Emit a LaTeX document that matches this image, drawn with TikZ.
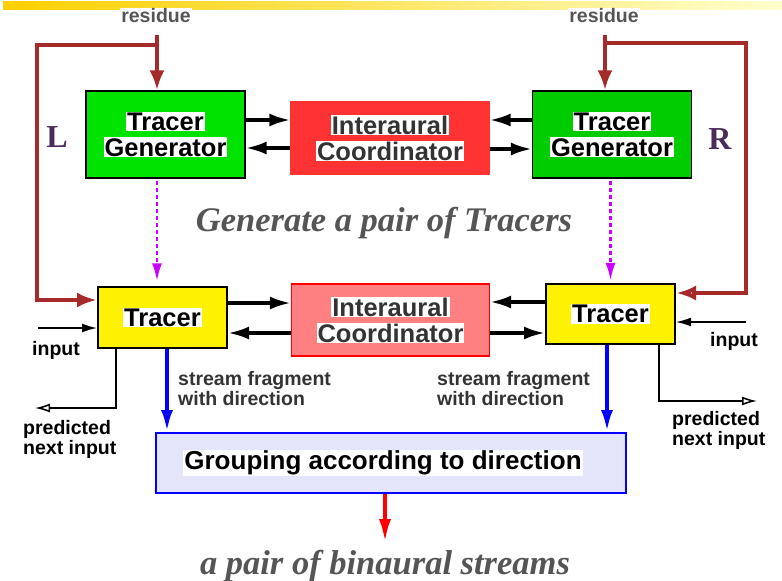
\documentclass[tikz,border=0pt]{standalone}
\usepackage{fontspec}
\setmainfont{Liberation Serif}
\setsansfont{Liberation Sans}
\usetikzlibrary{arrows.meta, positioning, calc}

\definecolor{brn}{RGB}{165,42,42}
\definecolor{grnA}{RGB}{0,226,0}
\definecolor{grnB}{RGB}{0,204,0}
\definecolor{redA}{RGB}{255,51,51}
\definecolor{redB}{RGB}{255,128,128}
\definecolor{lav}{RGB}{228,228,250}
\definecolor{vio}{RGB}{204,0,255}
\definecolor{txtgray}{RGB}{85,85,85}
\definecolor{dkgray}{RGB}{51,51,51}
\definecolor{plum}{RGB}{75,45,90}
\definecolor{barL}{RGB}{255,208,0}
\definecolor{barM}{RGB}{255,238,150}
\definecolor{barR}{RGB}{255,255,205}

\setlength{\fboxsep}{1pt}
\newcommand{\wb}[1]{\colorbox{white}{#1}}

\tikzstyle{blk}=[draw, inner sep=0pt, align=center,
    font=\sffamily\bfseries\fontsize{25.5}{26}\selectfont]
\tikzstyle{gen}=[blk, line width=1.2pt, minimum width=159pt, minimum height=87pt]
\tikzstyle{iac}=[blk, line width=1.2pt, text=dkgray,
    minimum width=198pt, minimum height=72pt]
\tikzstyle{trc}=[blk, fill=yellow, line width=2pt,
    minimum width=129pt, minimum height=60.5pt]
\tikzstyle{grpbox}=[blk, fill=lav, draw=blue, line width=2pt,
    minimum width=470pt, minimum height=60pt]
\tikzstyle{small}=[inner sep=0pt, align=left,
    font=\sffamily\bfseries\fontsize{19.5}{20}\selectfont]
\tikzstyle{ital}=[inner sep=0pt, text=txtgray,
    font=\rmfamily\bfseries\itshape\fontsize{34.5}{36}\selectfont]
\tikzstyle{lr}=[inner sep=0pt, text=plum,
    font=\rmfamily\bfseries\fontsize{32}{32}\selectfont]
\tikzstyle{link}=[line width=3.5pt, -{Latex[length=21pt,width=13pt]}]
\tikzstyle{res}=[brn, line width=4pt, -{Latex[length=20pt,width=15pt]}]
\tikzstyle{dots}=[vio, line width=2.5pt, dash pattern=on 4pt off 3pt,
    -{Latex[length=18pt,width=10pt]}]
\tikzstyle{strm}=[blue, line width=4pt, -{Latex[length=22pt,width=12pt]}]
\tikzstyle{outp}=[red, line width=4pt, -{Latex[length=24pt,width=12pt]}]
\tikzstyle{thinin}=[line width=1.5pt, -{Latex[length=15pt,width=9pt]}]
\tikzstyle{pred}=[line width=1.5pt, -{Latex[open,length=15pt,width=9pt]}]

\begin{document}
\begin{tikzpicture}[x=1pt,y=-1pt]
    \useasboundingbox (0,0) rectangle (782,581);
    \shade[left color=barL, middle color=barM, right color=barR]
        (3,1) rectangle (782,9);

    \node (genL) [gen, fill=grnA] at (165.5,134.5) {\wb{Tracer}\\\wb{Generator}};
    \path (genL)+(224.5,3.5) node (iacT) [iac, fill=redA, draw=redA]
        {\wb{Interaural}\\\wb{Coordinator}};
    \path (genL)+(446.5,0) node (genR) [gen, fill=grnB] {\wb{Tracer}\\\wb{Generator}};
    \node (trL) [trc] at (162.5,317.5) {\wb{Tracer}};
    \path (trL)+(228,2.5) node (iacB) [iac, fill=redB, draw=red]
        {\wb{Interaural}\\\wb{Coordinator}};
    \path (trL)+(448,-3.5) node (trR) [trc] {\wb{Tracer}};
    \node (grp) [grpbox] at (391,463)
        {\wb{\fontsize{26}{26}\selectfont Grouping according to direction}\hspace*{16pt}};

    \node (resL) [small, text=txtgray, fill=white, inner sep=1pt] at (156,16) {residue};
    \node (resR) [small, text=txtgray, fill=white, inner sep=1pt] at (604,16) {residue};
    \node (lblL) [lr] at (57,137) {L};
    \node (lblR) [lr] at (720,139) {R};
    \node (genTxt) [ital, anchor=base] at (384,231) {Generate a pair of Tracers};
    \node (inLt) [small] at (56,350) {input};
    \node (inRt) [small] at (734,341) {input};
    \node (prL) [small, anchor=west] at (23,439.5) {predicted\\next input};
    \node (prR) [small, anchor=west] at (672,430.5) {predicted\\next input};
    \node (sfL) [small, text=dkgray, anchor=west] at (178,389) {stream fragment\\with direction};
    \node (sfR) [small, text=dkgray, anchor=west] at (437,389) {stream fragment\\with direction};
    \node (pairTxt) [ital, anchor=base] at (385,574) {a pair of binaural streams};

    \coordinate (tL) at (157,35);
    \coordinate (jL) at (157,45);
    \coordinate (cL) at (37,45);
    \coordinate (tR) at (605,35);
    \coordinate (jR) at (605,43);
    \coordinate (cR) at (746,43);
    \coordinate (inL) at (38,328);
    \coordinate (inR) at (746,322);
    \coordinate (pdL) at (35,408);
    \coordinate (pdR) at (757,401);
    \coordinate (bot) at (385,543);

    \draw[res] (tL) -- (tL |- genL.north);
    \draw[res] (tR) -- (tR |- genR.north);
    \draw[res] (jL) -- (cL) |- (trL.west |- 0,300);
    \draw[res, -{Latex[open,length=20pt,width=15pt]}] (jR) -- (cR) |- (trR.east |- 0,293);

    \draw[link] (genL.east |- 0,120) -- (iacT.west |- 0,120);
    \draw[link] (iacT.west |- 0,148) -- (genL.east |- 0,148);
    \draw[link] (genR.west |- 0,120) -- (iacT.east |- 0,120);
    \draw[link] (iacT.east |- 0,149) -- (genR.west |- 0,149);
    \draw[link] (trL.east |- 0,303) -- (iacB.west |- 0,303);
    \draw[link] (iacB.west |- 0,333) -- (trL.east |- 0,333);
    \draw[link] (trR.west |- 0,302) -- (iacB.east |- 0,302);
    \draw[link] (iacB.east |- 0,333) -- (trR.west |- 0,333);

    \draw[dots, shorten <=2pt, shorten >=5pt] (genL.south -| tL) -- (trL.north -| tL);
    \draw[dots, shorten <=2pt, shorten >=2pt] (genR.south -| trR.north) -- (trR.north);

    \draw[thinin] (inL) -- (trL.west |- inL);
    \draw[thinin] (inR) -- (trR.east |- inR);
    \draw[pred] (trL.south -| 116,0) |- (pdL);
    \draw[pred] (trR.south -| 659,0) |- (pdR);

    \draw[strm] (trL.south -| 167,0) -- (grp.north -| 167,0);
    \draw[strm] (trR.south -| 607,0) -- (grp.north -| 607,0);
    \draw[outp] (grp.south -| bot) -- (bot);
\end{tikzpicture}
\end{document}
